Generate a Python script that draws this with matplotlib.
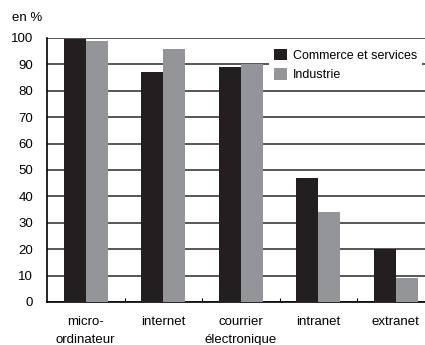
import numpy as np
import matplotlib.pyplot as plt

plt.rcParams['font.family'] = ['Liberation Sans', 'DejaVu Sans']

categories = ['micro-\nordinateur', 'internet', 'courrier\nélectronique', 'intranet', 'extranet']
commerce = [99.5, 87, 89, 47, 20]
industrie = [99, 96, 90, 34, 9]
series_names = ['Commerce et services', 'Industrie']
yticks = list(range(0, 101, 10))

fig = plt.figure(figsize=(4.25, 3.45), dpi=100)
ax = fig.add_axes([47 / 425, 43 / 345, 387.5 / 425, 264 / 345])

x = np.arange(len(categories))
w = 0.285
ax.bar(x - w / 2, commerce, w, color='#231f20', label=series_names[0], zorder=3)
ax.bar(x + w / 2, industrie, w, color='#939598', label=series_names[1], zorder=3)

ax.set_xlim(-0.5, len(categories) - 0.5)
ax.set_ylim(0, 100)
ax.set_yticks(yticks)
ax.yaxis.grid(True, color='#3a3a3a', lw=1.2, zorder=1)
ax.tick_params(axis='y', length=0, pad=10, labelsize=9.5)

ax.set_xticks(x)
ax.set_xticklabels(categories, fontsize=9.5, linespacing=1.65)
ax.tick_params(axis='x', which='major', length=0, pad=10)
ax.set_xticks(x[:-1] + 0.5, minor=True)
ax.tick_params(axis='x', which='minor', direction='in', length=3, width=0.8)

for s in ['top', 'right']:
    ax.spines[s].set_visible(False)
ax.spines['left'].set_linewidth(1.2)
ax.spines['bottom'].set_linewidth(1.2)

fig.text(12 / 425, 1 - 18 / 345, 'en %', fontsize=9.5, va='center')

leg = ax.legend(loc='upper left', bbox_to_anchor=(263 / 425, 1 - 38 / 345),
                bbox_transform=fig.transFigure, frameon=True, fancybox=False,
                handlelength=1.0, handleheight=1.0, handletextpad=0.5,
                labelspacing=0.5, borderpad=0.4, fontsize=9)
leg.get_frame().set_facecolor('white')
leg.get_frame().set_edgecolor('none')
leg.get_frame().set_alpha(1)
leg.set_zorder(5)

fig.savefig('out.png', dpi=100)
